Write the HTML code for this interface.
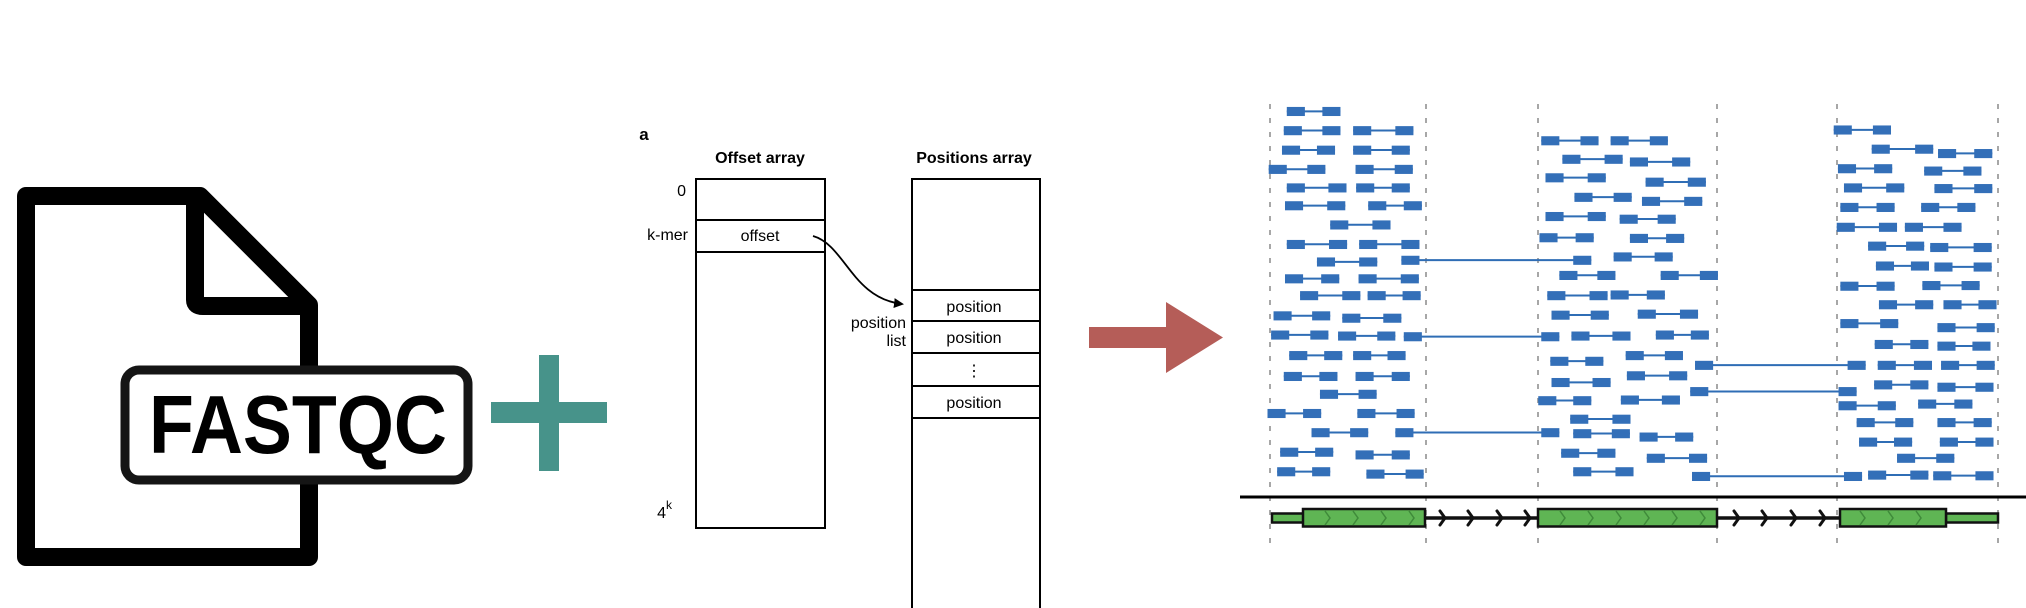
<!DOCTYPE html>
<html><head><meta charset="utf-8"><style>
html,body{margin:0;padding:0;background:#fff;}
svg{display:block;}
.b rect{width:30px;height:27px;}
text{font-family:"Liberation Sans",sans-serif;}
</style></head><body>
<svg width="2026" height="608" viewBox="0 0 2026 608" xmlns="http://www.w3.org/2000/svg">
<defs><marker id="ah" markerWidth="10" markerHeight="10" refX="8" refY="5" orient="auto" markerUnits="userSpaceOnUse"><path d="M0,0 L10,5 L0,10 Z" fill="#000"/></marker></defs>
<rect width="2026" height="608" fill="#fff"/>
<!-- file icon -->
<path d="M26,196 H200 L309,305 V557 H26 Z" fill="none" stroke="#000" stroke-width="18" stroke-linejoin="round"/>
<path d="M195,196 V300 Q195,306 203,306 H309" fill="none" stroke="#000" stroke-width="18" stroke-linejoin="round"/>
<rect x="125" y="370" width="343" height="110" rx="14" fill="#fff" stroke="#151515" stroke-width="9"/>
<text x="298" y="453" font-size="83" font-weight="bold" text-anchor="middle" textLength="298" lengthAdjust="spacingAndGlyphs">FASTQC</text>
<!-- plus -->
<rect x="539" y="355" width="20" height="116" fill="#47938a"/>
<rect x="491" y="402" width="116" height="21" fill="#47938a"/>
<!-- array diagram -->
<text x="644" y="140" font-size="17" font-weight="bold" text-anchor="middle">a</text>
<text x="760" y="163" font-size="16" font-weight="bold" text-anchor="middle">Offset array</text>
<text x="974" y="163" font-size="16" font-weight="bold" text-anchor="middle">Positions array</text>
<g fill="none" stroke="#000" stroke-width="2">
<rect x="696" y="179" width="129" height="349"/>
<line x1="696" y1="220" x2="825" y2="220"/><line x1="696" y1="252" x2="825" y2="252"/>
<path d="M912,610 V179 H1040 V610"/>
<line x1="912" y1="290" x2="1040" y2="290"/><line x1="912" y1="321" x2="1040" y2="321"/>
<line x1="912" y1="353" x2="1040" y2="353"/><line x1="912" y1="386" x2="1040" y2="386"/>
<line x1="912" y1="418" x2="1040" y2="418"/>
<path d="M813,236 C845,245 852,298 902,304" stroke-width="1.8" marker-end="url(#ah)"/>
</g>
<g font-size="16">
<text x="686" y="196" text-anchor="end">0</text>
<text x="688" y="240" text-anchor="end">k-mer</text>
<text x="760" y="241" text-anchor="middle">offset</text>
<text x="974" y="312" text-anchor="middle">position</text>
<text x="974" y="343" text-anchor="middle">position</text>
<text x="974" y="376" text-anchor="middle">⋮</text>
<text x="974" y="408" text-anchor="middle">position</text>
<text x="906" y="328" text-anchor="end">position</text>
<text x="906" y="346" text-anchor="end">list</text>
<text x="672" y="518" text-anchor="end">4<tspan font-size="12" dy="-9">k</tspan></text>
</g>
<!-- red arrow -->
<polygon points="1089,327 1166,327 1166,302 1223,337.5 1166,373 1166,348 1089,348" fill="#b55d58"/>
<!-- dashed lines -->
<g stroke="#8a8a8a" stroke-width="1.5" stroke-dasharray="5,9">
<line x1="1270" y1="104" x2="1270" y2="552"/><line x1="1426" y1="104" x2="1426" y2="552"/>
<line x1="1538" y1="104" x2="1538" y2="552"/><line x1="1717" y1="104" x2="1717" y2="552"/>
<line x1="1837" y1="104" x2="1837" y2="552"/><line x1="1998" y1="104" x2="1998" y2="552"/>
</g>
<!-- reads -->
<g transform="translate(1086,80) scale(0.603,0.3367)">
<path fill="none" stroke="#2f6db5" stroke-width="2" vector-effect="non-scaling-stroke" d="
M333,93H422 M328,150H422 M443,150H543 M325,208H413 M443,208H537 M303,265H397 M447,265H542 M333,320H432 M448,320H537 M330,373H430 M468,373H557 M405,430H505 M333,488H433 M453,488H553 M383,540H483 M523,535H838 M330,590H420 M452,590H552 M355,640H455 M467,640H555 M311,700H405 M425,707H523 M307,757H402 M418,760H513 M527,762H785 M337,818H425 M443,818H530 M328,880H417 M447,880H537 M388,933H482 M301,990H390 M450,990H545 M374,1047H468 M513,1047H785 M322,1105H410 M447,1113H537 M317,1163H405 M465,1170H560
M755,180H850 M870,180H965 M790,235H890 M902,243H1002 M762,290H862 M928,303H1028 M810,348H905 M922,360H1022 M762,405H862 M885,413H978 M752,468H842 M902,470H992 M875,525H973 M785,580H878 M953,580H1048 M765,640H865 M870,638H960 M772,698H867 M915,695H1015 M805,760H903 M945,757H1033 M895,818H990 M770,835H858 M1010,847H1293 M897,878H997 M772,898H870 M1002,925H1278 M750,952H838 M887,950H985 M803,1007H903 M808,1050H902 M918,1060H1007 M788,1108H878 M930,1123H1030 M808,1163H908 M1005,1177H1287
M1240,148H1335 M1303,205H1405 M1413,218H1503 M1247,263H1337 M1390,270H1485 M1257,320H1357 M1407,322H1503 M1251,378H1341 M1385,378H1475 M1245,437H1345 M1358,437H1452 M1297,493H1390 M1400,497H1502 M1310,552H1398 M1407,555H1502 M1251,612H1341 M1387,610H1482 M1315,667H1405 M1422,667H1510 M1251,723H1347 M1412,735H1507 M1308,785H1397 M1412,790H1500 M1313,847H1403 M1418,847H1507 M1307,905H1397 M1412,912H1505 M1248,967H1343 M1380,962H1470 M1278,1017H1372 M1412,1017H1502 M1282,1075H1370 M1416,1075H1505 M1345,1123H1440 M1297,1173H1397 M1405,1175H1505"/>
<g class="b" fill="#336fb8">
<rect x="333" y="80"/><rect x="392" y="80"/>
<rect x="328" y="137"/><rect x="392" y="137"/><rect x="443" y="137"/><rect x="513" y="137"/>
<rect x="325" y="195"/><rect x="383" y="195"/><rect x="443" y="195"/><rect x="507" y="195"/>
<rect x="303" y="252"/><rect x="367" y="252"/><rect x="447" y="252"/><rect x="512" y="252"/>
<rect x="333" y="307"/><rect x="402" y="307"/><rect x="448" y="307"/><rect x="507" y="307"/>
<rect x="330" y="360"/><rect x="400" y="360"/><rect x="468" y="360"/><rect x="527" y="360"/>
<rect x="405" y="417"/><rect x="475" y="417"/>
<rect x="333" y="475"/><rect x="403" y="475"/><rect x="453" y="475"/><rect x="523" y="475"/>
<rect x="383" y="527"/><rect x="453" y="527"/><rect x="523" y="522"/><rect x="808" y="522"/>
<rect x="330" y="577"/><rect x="390" y="577"/><rect x="452" y="577"/><rect x="522" y="577"/>
<rect x="355" y="627"/><rect x="425" y="627"/><rect x="467" y="627"/><rect x="525" y="627"/>
<rect x="311" y="687"/><rect x="375" y="687"/><rect x="425" y="694"/><rect x="493" y="694"/>
<rect x="307" y="744"/><rect x="372" y="744"/><rect x="418" y="747"/><rect x="483" y="747"/><rect x="527" y="749"/><rect x="755" y="749"/>
<rect x="337" y="805"/><rect x="395" y="805"/><rect x="443" y="805"/><rect x="500" y="805"/>
<rect x="328" y="867"/><rect x="387" y="867"/><rect x="447" y="867"/><rect x="507" y="867"/>
<rect x="388" y="920"/><rect x="452" y="920"/>
<rect x="301" y="977"/><rect x="360" y="977"/><rect x="450" y="977"/><rect x="515" y="977"/>
<rect x="374" y="1034"/><rect x="438" y="1034"/><rect x="513" y="1034"/><rect x="755" y="1034"/>
<rect x="322" y="1092"/><rect x="380" y="1092"/><rect x="447" y="1100"/><rect x="507" y="1100"/>
<rect x="317" y="1150"/><rect x="375" y="1150"/><rect x="465" y="1157"/><rect x="530" y="1157"/>
<rect x="755" y="167"/><rect x="820" y="167"/><rect x="870" y="167"/><rect x="935" y="167"/>
<rect x="790" y="222"/><rect x="860" y="222"/><rect x="902" y="230"/><rect x="972" y="230"/>
<rect x="762" y="277"/><rect x="832" y="277"/><rect x="928" y="290"/><rect x="998" y="290"/>
<rect x="810" y="335"/><rect x="875" y="335"/><rect x="922" y="347"/><rect x="992" y="347"/>
<rect x="762" y="392"/><rect x="832" y="392"/><rect x="885" y="400"/><rect x="948" y="400"/>
<rect x="752" y="455"/><rect x="812" y="455"/><rect x="902" y="457"/><rect x="962" y="457"/>
<rect x="875" y="512"/><rect x="943" y="512"/>
<rect x="785" y="567"/><rect x="848" y="567"/><rect x="953" y="567"/><rect x="1018" y="567"/>
<rect x="765" y="627"/><rect x="835" y="627"/><rect x="870" y="625"/><rect x="930" y="625"/>
<rect x="772" y="685"/><rect x="837" y="685"/><rect x="915" y="682"/><rect x="985" y="682"/>
<rect x="805" y="747"/><rect x="873" y="747"/><rect x="945" y="744"/><rect x="1003" y="744"/>
<rect x="895" y="805"/><rect x="960" y="805"/>
<rect x="770" y="822"/><rect x="828" y="822"/><rect x="1010" y="834"/><rect x="1263" y="834"/>
<rect x="897" y="865"/><rect x="967" y="865"/>
<rect x="772" y="885"/><rect x="840" y="885"/><rect x="1002" y="912"/><rect x="1248" y="912"/>
<rect x="750" y="939"/><rect x="808" y="939"/><rect x="887" y="937"/><rect x="955" y="937"/>
<rect x="803" y="994"/><rect x="873" y="994"/>
<rect x="808" y="1037"/><rect x="872" y="1037"/><rect x="918" y="1047"/><rect x="977" y="1047"/>
<rect x="788" y="1095"/><rect x="848" y="1095"/><rect x="930" y="1110"/><rect x="1000" y="1110"/>
<rect x="808" y="1150"/><rect x="878" y="1150"/><rect x="1005" y="1164"/><rect x="1257" y="1164"/>
<rect x="1240" y="135"/><rect x="1305" y="135"/>
<rect x="1303" y="192"/><rect x="1375" y="192"/><rect x="1413" y="205"/><rect x="1473" y="205"/>
<rect x="1247" y="250"/><rect x="1307" y="250"/><rect x="1390" y="257"/><rect x="1455" y="257"/>
<rect x="1257" y="307"/><rect x="1327" y="307"/><rect x="1407" y="309"/><rect x="1473" y="309"/>
<rect x="1251" y="365"/><rect x="1311" y="365"/><rect x="1385" y="365"/><rect x="1445" y="365"/>
<rect x="1245" y="424"/><rect x="1315" y="424"/><rect x="1358" y="424"/><rect x="1422" y="424"/>
<rect x="1297" y="480"/><rect x="1360" y="480"/><rect x="1400" y="484"/><rect x="1472" y="484"/>
<rect x="1310" y="539"/><rect x="1368" y="539"/><rect x="1407" y="542"/><rect x="1472" y="542"/>
<rect x="1251" y="599"/><rect x="1311" y="599"/><rect x="1387" y="597"/><rect x="1452" y="597"/>
<rect x="1315" y="654"/><rect x="1375" y="654"/><rect x="1422" y="654"/><rect x="1480" y="654"/>
<rect x="1251" y="710"/><rect x="1317" y="710"/><rect x="1412" y="722"/><rect x="1477" y="722"/>
<rect x="1308" y="772"/><rect x="1367" y="772"/><rect x="1412" y="777"/><rect x="1470" y="777"/>
<rect x="1313" y="834"/><rect x="1373" y="834"/><rect x="1418" y="834"/><rect x="1477" y="834"/>
<rect x="1307" y="892"/><rect x="1367" y="892"/><rect x="1412" y="899"/><rect x="1475" y="899"/>
<rect x="1248" y="954"/><rect x="1313" y="954"/><rect x="1380" y="949"/><rect x="1440" y="949"/>
<rect x="1278" y="1004"/><rect x="1342" y="1004"/><rect x="1412" y="1004"/><rect x="1472" y="1004"/>
<rect x="1282" y="1062"/><rect x="1340" y="1062"/><rect x="1416" y="1062"/><rect x="1475" y="1062"/>
<rect x="1345" y="1110"/><rect x="1410" y="1110"/>
<rect x="1297" y="1160"/><rect x="1367" y="1160"/><rect x="1405" y="1162"/><rect x="1475" y="1162"/>
</g>
</g>
<!-- baseline -->
<line x1="1240" y1="497" x2="2026" y2="497" stroke="#000" stroke-width="3"/>
<!-- gene track -->
<line x1="1425" y1="518" x2="1538" y2="518" stroke="#111" stroke-width="3.5"/>
<line x1="1717" y1="518" x2="1840" y2="518" stroke="#111" stroke-width="3.5"/>
<g fill="none" stroke="#111" stroke-width="3" stroke-linecap="round">
<path d="M1440,511 l5,7 l-5,7 M1468,511 l5,7 l-5,7 M1497,511 l5,7 l-5,7 M1525,511 l5,7 l-5,7"/>
<path d="M1734,511 l5,7 l-5,7 M1762,511 l5,7 l-5,7 M1791,511 l5,7 l-5,7 M1820,511 l5,7 l-5,7"/>
</g>
<g fill="#5fb554" stroke="#111" stroke-width="2.5">
<rect x="1272" y="513.5" width="32" height="9"/>
<rect x="1946" y="513.5" width="52" height="9"/>
<rect x="1303" y="509" width="122" height="17.5"/>
<rect x="1538" y="509" width="179" height="17.5"/>
<rect x="1840" y="509" width="106" height="17.5"/>
</g>
<g fill="none" stroke="#3f8a3a" stroke-width="1.5">
<path d="M1325,511 l5,7 l-5,7 M1353,511 l5,7 l-5,7 M1381,511 l5,7 l-5,7 M1409,511 l5,7 l-5,7"/>
<path d="M1560,511 l5,7 l-5,7 M1588,511 l5,7 l-5,7 M1616,511 l5,7 l-5,7 M1644,511 l5,7 l-5,7 M1672,511 l5,7 l-5,7 M1700,511 l5,7 l-5,7"/>
<path d="M1860,511 l5,7 l-5,7 M1888,511 l5,7 l-5,7 M1916,511 l5,7 l-5,7"/>
</g>
</svg>
</body></html>
